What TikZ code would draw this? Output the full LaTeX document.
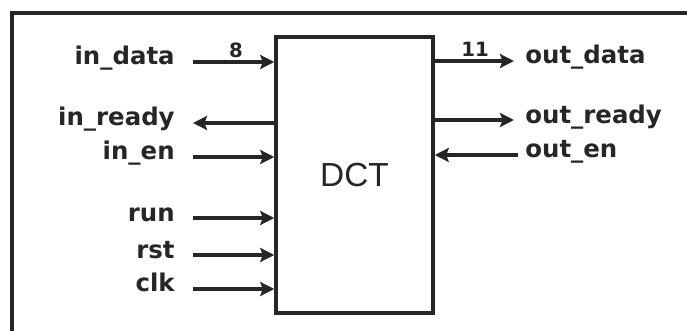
\documentclass[tikz,border=0pt]{standalone}
\usepackage{fontspec}
\setmainfont{Liberation Sans}
\newfontfamily\pinfont{DejaVu Sans}
\usepackage{tikz}
\usetikzlibrary{arrows.meta, calc}
\definecolor{my_black}{HTML}{262626}

\tikzset{
    pinlabel/.style={text=my_black, inner sep=0pt, font=\pinfont\bfseries\fontsize{13.9}{16}\selectfont},
    buswidth/.style={text=my_black, inner sep=0pt, font=\pinfont\bfseries\fontsize{11.2}{13}\selectfont},
    signal/.style={my_black, line width=2pt, -{Stealth[length=8pt, width=8pt, inset=1.5pt]}}
}

\begin{document}
\begin{tikzpicture}[x=0.02cm, y=-0.02cm]

% picture is 687 x 331 units, y pointing down
\useasboundingbox (0,0) rectangle (687,331);

% Outer frame (only left and top edge are visible)
\draw[my_black, line width=2pt] (12,331) -- (12,13) -- (687,13);

% DCT block: corners at (276,37) and (433,313)
\node[draw=my_black, line width=2pt, minimum width=3.14cm, minimum height=5.52cm,
      inner sep=0pt, text=my_black, font=\fontsize{19}{22}\selectfont]
    (dct) at (354.5,175) {DCT};

% Left side ports
\node[pinlabel, anchor=base east] (indata)  at (175,65)  {in\_data};
\node[pinlabel, anchor=base east] (inready) at (175,126) {in\_ready};
\node[pinlabel, anchor=base east] (inen)    at (175,160) {in\_en};
\node[pinlabel, anchor=base east] (run)     at (175,221) {run};
\node[pinlabel, anchor=base east] (rst)     at (175,258) {rst};
\node[pinlabel, anchor=base east] (clk)     at (175,292) {clk};

\coordinate (indata-s)  at (193,62);
\coordinate (inready-s) at (193,123);
\coordinate (inen-s)    at (193,157);
\coordinate (run-s)     at (193,218);
\coordinate (rst-s)     at (193,255);
\coordinate (clk-s)     at (193,289);

\draw[signal] (indata-s) -- (indata-s -| dct.west);
\draw[signal] (inready-s -| dct.west) -- (inready-s);
\draw[signal] (inen-s) -- (inen-s -| dct.west);
\draw[signal] (run-s) -- (run-s -| dct.west);
\draw[signal] (rst-s) -- (rst-s -| dct.west);
\draw[signal] (clk-s) -- (clk-s -| dct.west);

% bus width of in_data
\node[buswidth] (w8) at (236,50) {8};

% Right side ports
\node[pinlabel, anchor=base west] (outdata)  at (525,64)  {out\_data};
\node[pinlabel, anchor=base west] (outready) at (525,124) {out\_ready};
\node[pinlabel, anchor=base west] (outen)    at (525,158) {out\_en};

\coordinate (outdata-e)  at (514,61);
\coordinate (outready-e) at (514,120);
\coordinate (outen-e)    at (518,155);

\draw[signal] (outdata-e -| dct.east) -- (outdata-e);
\draw[signal] (outready-e -| dct.east) -- (outready-e);
\draw[signal] (outen-e) -- (outen-e -| dct.east);

% bus width of out_data
\node[buswidth] (w11) at (475,49) {11};

\end{tikzpicture}
\end{document}
